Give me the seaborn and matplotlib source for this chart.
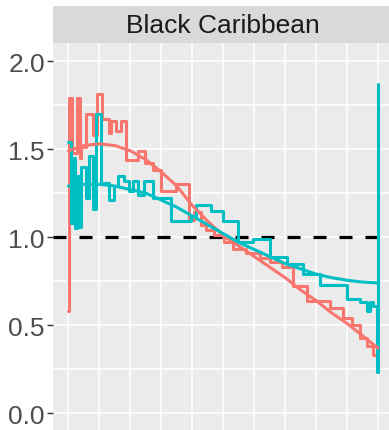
import matplotlib
matplotlib.use("Agg")
import matplotlib.pyplot as plt
import pandas as pd
import seaborn as sns

# Group colours (ggplot default hue pair)
SALMON = "#F8766D"
TEAL = "#00BFC4"

# Step estimates: time at which each value starts, and the value
step_time_a = [0.00, 0.02, 0.11, 0.27, 0.37, 0.40, 0.56, 0.79, 0.92, 1.08,
               1.30, 1.37, 1.53, 1.69, 1.85, 2.24, 2.46, 2.72, 2.98, 3.46,
               3.88, 4.04, 4.27, 4.43, 4.69, 5.01, 5.33, 5.72, 6.20, 6.52,
               6.91, 7.26, 7.71, 8.45, 8.87, 9.16, 9.42, 9.65, 9.84, 10.00]
step_ratio_a = [0.58, 1.79, 1.48, 1.79, 1.45, 1.51, 1.70, 1.58, 1.81, 1.67,
                1.59, 1.66, 1.60, 1.66, 1.44, 1.49, 1.42, 1.38, 1.26, 1.30,
                1.10, 1.14, 1.07, 1.04, 1.01, 0.97, 0.93, 0.91, 0.88, 0.86,
                0.83, 0.72, 0.64, 0.60, 0.54, 0.50, 0.43, 0.38, 0.33, 0.24]

step_time_b = [0.00, 0.08, 0.14, 0.21, 0.27, 0.34, 0.40, 0.56, 0.66, 0.79,
               0.89, 1.05, 1.30, 1.46, 1.59, 1.79, 1.95, 2.08, 2.24, 2.43,
               2.72, 3.30, 3.95, 4.11, 4.59, 4.98, 5.49, 5.97, 6.52, 7.07,
               7.58, 8.13, 9.00, 9.42, 9.65, 9.74, 9.84, 9.98, 10.00]
step_ratio_b = [1.54, 1.08, 1.45, 1.05, 1.35, 1.06, 1.40, 1.22, 1.46, 1.16,
                1.70, 1.31, 1.21, 1.29, 1.35, 1.32, 1.26, 1.32, 1.24, 1.32,
                1.22, 1.09, 1.12, 1.18, 1.15, 1.09, 0.97, 0.99, 0.89, 0.85,
                0.79, 0.73, 0.65, 0.63, 0.58, 0.63, 0.61, 0.235, 1.87]

# Smoothed trends
smooth_time = [0.0, 0.5, 1.0, 1.5, 2.0, 2.5, 3.0, 3.5, 4.0, 4.5, 5.0,
               5.5, 6.0, 6.5, 7.0, 7.5, 8.0, 8.5, 9.0, 9.5, 10.0]
smooth_a = [1.49, 1.52, 1.53, 1.52, 1.49, 1.44, 1.37, 1.29, 1.18, 1.09, 1.01,
            0.95, 0.89, 0.83, 0.77, 0.70, 0.64, 0.57, 0.51, 0.44, 0.37]
smooth_b = [1.29, 1.30, 1.30, 1.29, 1.27, 1.25, 1.21, 1.17, 1.12, 1.07, 1.02,
            0.97, 0.93, 0.89, 0.85, 0.82, 0.79, 0.77, 0.755, 0.745, 0.74]

y_ticks = [0.0, 0.5, 1.0, 1.5, 2.0]
y_tick_labels = ["0.0", "0.5", "1.0", "1.5", "2.0"]
panel_title = "Black Caribbean"

sns.set_theme(style="darkgrid", rc={
    "axes.facecolor": "#EBEBEB",
    "grid.color": "white",
    "grid.linewidth": 1.1,
    "axes.edgecolor": "none",
})
plt.rcParams["font.family"] = ["Liberation Sans", "DejaVu Sans"]

W, H = 389, 431
fig = plt.figure(figsize=(W / 100, H / 100), dpi=100)
fig.patch.set_facecolor("white")

# Panel (extends slightly past the right/bottom edge of the canvas)
ax = fig.add_axes([53 / W, (H - 431.9) / H, 340.5 / W, 387.5 / H])
ax.set_xlim(-0.5, 10.5)
ax.set_ylim(-0.1, 2.1)
ax.set_xticks(range(0, 11))
ax.set_xticklabels([])
ax.tick_params(axis="x", length=0)
ax.set_yticks(y_ticks)
ax.set_yticklabels(y_tick_labels)
ax.set_yticks([0.25, 0.75, 1.25, 1.75], minor=True)
ax.grid(which="both", color="white", linewidth=1.1)
ax.tick_params(axis="y", which="major", length=4.3, width=1.0, color="#333333",
               pad=1.5, labelcolor="#4D4D4D", labelsize=19, left=True)
ax.tick_params(axis="y", which="minor", length=0)

ax.axhline(1.0, color="black", lw=2.3, ls=(0, (4.07, 4.07)), zorder=1.5)

lw = 2.2
sns.lineplot(x=step_time_a, y=step_ratio_a, ax=ax, color=SALMON, lw=lw,
             drawstyle="steps-post", estimator=None, sort=False, zorder=2)
sns.lineplot(x=step_time_b, y=step_ratio_b, ax=ax, color=TEAL, lw=lw,
             drawstyle="steps-post", estimator=None, sort=False, zorder=2)
sns.lineplot(x=smooth_time, y=smooth_a, ax=ax, color=SALMON, lw=lw,
             estimator=None, sort=False, zorder=3)
sns.lineplot(x=smooth_time, y=smooth_b, ax=ax, color=TEAL, lw=lw,
             estimator=None, sort=False, zorder=3)
ax.set_xlabel("")
ax.set_ylabel("")

# Facet strip
strip = fig.add_axes([53 / W, (H - 43.8) / H, 340.5 / W, 36.5 / H])
strip.set_facecolor("#D9D9D9")
strip.set_xticks([])
strip.set_yticks([])
strip.grid(False)
strip.text(0.5, 0.48, panel_title, ha="center", va="center",
           fontsize=19, color="#1A1A1A", transform=strip.transAxes)

fig.savefig("out.png", dpi=100)
